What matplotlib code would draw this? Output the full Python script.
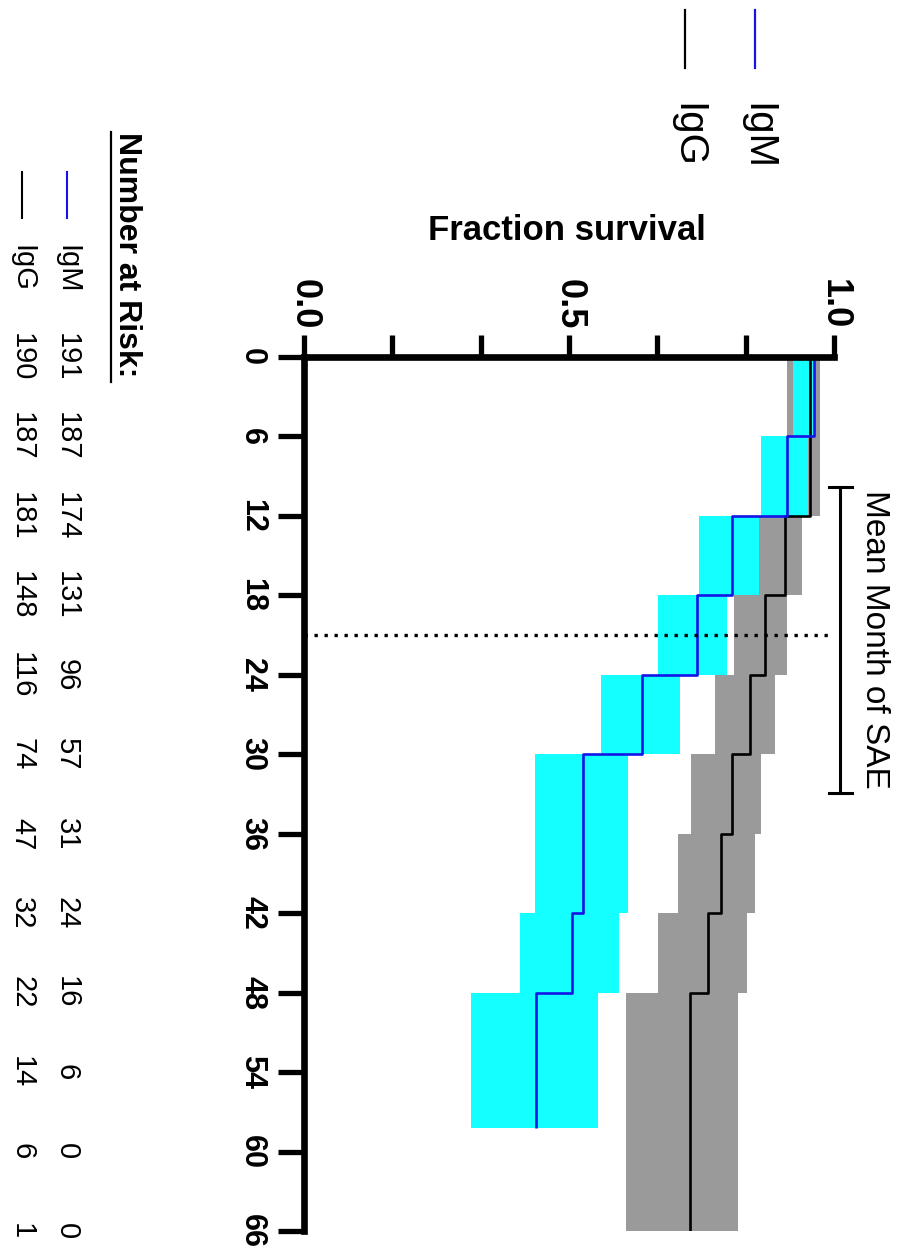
import numpy as np
import matplotlib
matplotlib.use("Agg")
import matplotlib.pyplot as plt
from matplotlib import transforms
from matplotlib.lines import Line2D
from matplotlib.ticker import MultipleLocator

plt.rcParams['font.family'] = ['Liberation Sans', 'DejaVu Sans']

months = [0, 6, 12, 18, 24, 30, 36, 42, 48, 54, 60, 66]

igm_times = [0, 0, 6, 12, 18, 24, 30, 42, 48]
igm_surv = [1.0, 0.962, 0.911, 0.808, 0.741, 0.638, 0.526, 0.505, 0.437]
igm_end = 58.2
igm_ci_times = [0, 6, 12, 18, 24, 30, 42, 48]
igm_ci_lo = [0.923, 0.862, 0.745, 0.668, 0.560, 0.435, 0.408, 0.316]
igm_ci_hi = [0.962, 0.951, 0.858, 0.799, 0.709, 0.612, 0.595, 0.554]

igg_times = [0, 0, 12, 18, 24, 30, 36, 42, 48]
igg_surv = [1.0, 0.955, 0.907, 0.869, 0.841, 0.808, 0.787, 0.763, 0.729]
igg_end = 66
igg_ci_times = [0, 12, 18, 24, 30, 36, 42, 48]
igg_ci_lo = [0.911, 0.858, 0.811, 0.776, 0.730, 0.705, 0.668, 0.608]
igg_ci_hi = [0.974, 0.940, 0.912, 0.888, 0.862, 0.851, 0.836, 0.819]

igm_at_risk = [191, 187, 174, 131, 96, 57, 31, 24, 16, 6, 0, 0]
igg_at_risk = [190, 187, 181, 148, 116, 74, 47, 32, 22, 14, 6, 1]

sae_mean = 21
sae_lo, sae_hi = 9.8, 32.9

blue = '#1414e6'
cyan = '#14ffff'
grey = '#9a9a9a'

W, H = 898, 1258


def fx(x):
    return x / W


def fy(y):
    return 1 - y / H


def km_path(times, surv, end):
    t = np.repeat(np.append(times, end), 2)[1:-1]
    s = np.repeat(surv, 2)
    return s, t


fig = plt.figure(figsize=(W / 100, H / 100), dpi=100)
ax = fig.add_axes([fx(304), fy(1231), 530 / W, 874 / H])
ax.patch.set_alpha(0)
ax.set_xlim(0, 1)
ax.set_ylim(66, 0)

# confidence bands
ax.fill_betweenx(np.append(igg_ci_times, igg_end), np.append(igg_ci_lo, igg_ci_lo[-1]),
                 np.append(igg_ci_hi, igg_ci_hi[-1]), step='post', color=grey, lw=0, zorder=1)
ax.fill_betweenx(np.append(igm_ci_times, igm_end), np.append(igm_ci_lo, igm_ci_lo[-1]),
                 np.append(igm_ci_hi, igm_ci_hi[-1]), step='post', color=cyan, lw=0, zorder=2)

# survival curves
s, t = km_path(igg_times, igg_surv, igg_end)
ax.plot(s, t, color='black', lw=1.9, zorder=3, solid_capstyle='butt')
s, t = km_path(igm_times, igm_surv, igm_end)
ax.plot(s, t, color=blue, lw=1.9, zorder=4, solid_capstyle='butt')

# mean month of SAE
ax.plot([0, 0.99], [sae_mean, sae_mean], color='black', lw=2.4, ls=(0, (1, 2)), zorder=5)
ax.plot([1.011, 1.011], [sae_lo, sae_hi], color='black', lw=2.2, clip_on=False)
for yv in (sae_lo, sae_hi):
    ax.plot([0.99, 1.034], [yv, yv], color='black', lw=2.2, clip_on=False)
ax.text(1.077, (sae_lo + sae_hi) / 2, 'Mean Month of SAE', rotation=-90,
        ha='center', va='center', fontsize=24)

# axes styling
for side in ['right', 'bottom']:
    ax.spines[side].set_visible(False)
for side in ['top', 'left']:
    ax.spines[side].set_linewidth(4.8)
    ax.spines[side].set_capstyle('projecting')
    ax.spines[side].set_zorder(6)

ax.xaxis.tick_top()
ax.set_xticks([0, 0.5, 1.0], labels=['0.0', '0.5', '1.0'], fontsize=26,
              fontweight='bold', rotation=-90)
ax.xaxis.set_minor_locator(MultipleLocator(1 / 6))
ax.set_yticks(months, labels=[str(m) for m in months], fontsize=22,
              fontweight='bold', rotation=-90, va='center')
ax.tick_params(axis='x', which='both', direction='out', length=16, width=3.8,
               pad=4, top=True, bottom=False)
ax.tick_params(axis='y', direction='out', length=18.5, width=3.8, pad=8)

fig.text(fx(567), fy(230), 'Fraction survival', ha='center', va='center',
         fontsize=25, fontweight='bold')

# legend at top
for name, col, xp in [('IgM', blue, 755), ('IgG', 'black', 685)]:
    fig.add_artist(Line2D([fx(xp), fx(xp)], [fy(10), fy(68)], color=col, lw=1.6))
    fig.text(fx(xp + 2), fy(103), name, rotation=-90, ha='center', va='top', fontsize=29)

# number at risk table
fig.text(fx(127), fy(132), 'Number at Risk:', rotation=-90, ha='center', va='top',
         fontsize=23, fontweight='bold')
fig.add_artist(Line2D([fx(111), fx(111)], [fy(132), fy(382)], color='black', lw=1.6))

trans = transforms.blended_transform_factory(fig.transFigure, ax.transData)
for name, col, xp, counts in [('IgM', blue, 67, igm_at_risk), ('IgG', 'black', 22, igg_at_risk)]:
    fig.add_artist(Line2D([fx(xp), fx(xp)], [fy(172), fy(218)], color=col, lw=1.5))
    fig.text(fx(xp), fy(245), name, rotation=-90, ha='center', va='top', fontsize=21)
    for m, n in zip(months, counts):
        fig.text(fx(xp), m, str(n), transform=trans, rotation=-90,
                 ha='center', va='center', fontsize=21)

fig.savefig('out.png', dpi=100)
